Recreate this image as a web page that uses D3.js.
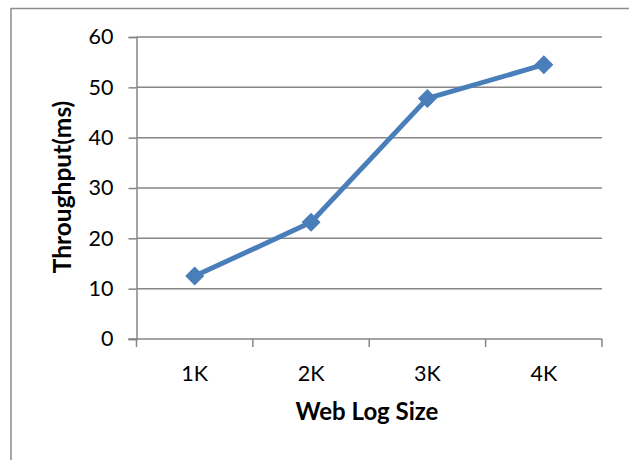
<!DOCTYPE html>
<html>
<head>
<meta charset="utf-8">
<script src="https://cdn.jsdelivr.net/npm/d3@7"></script>
<style>
  html, body { margin: 0; padding: 0; background: #fff; }
  svg { display: block; }
  text { font-family: Lato, "Open Sans", sans-serif; }
</style>
</head>
<body>
<script>
const categories = ["1K", "2K", "3K", "4K"];
const throughput = [12.5, 23.2, 47.8, 54.5];
const yTicks = [0, 10, 20, 30, 40, 50, 60];

(function () {
const W = 629, H = 460;
const svg = d3.select("body").append("svg").attr("width", W).attr("height", H);

// outer frame
svg.append("path")
  .attr("d", `M11,${H} L11,8.5 L${W},8.5`)
  .attr("fill", "none").attr("stroke", "#8c8c8c").attr("stroke-width", 1.5);

const pLeft = 136.5, pRight = 602, pTop = 37, pBottom = 339;
const x = d3.scaleBand().domain(categories).range([pLeft, pRight]).paddingInner(0).paddingOuter(0);
const y = d3.scaleLinear().domain([0, 60]).range([pBottom, pTop]);

// y axis
const yAxis = d3.axisLeft(y).tickValues(yTicks).tickSize(8).tickPadding(15);
const gy = svg.append("g").attr("transform", `translate(${pLeft},0)`).call(yAxis);
gy.select(".domain").attr("stroke", "#868686").attr("stroke-width", 1.5);
gy.selectAll(".tick line").attr("stroke", "#868686").attr("stroke-width", 1.5);
gy.selectAll(".tick text").attr("font-size", 21.5).attr("fill", "#000").attr("font-family", "Lato");

// gridlines
svg.append("g").selectAll("line").data(yTicks.filter(d => d > 0)).join("line")
  .attr("x1", pLeft).attr("x2", pRight)
  .attr("y1", d => y(d)).attr("y2", d => y(d))
  .attr("stroke", "#868686").attr("stroke-width", 1.5);

// x axis
const gx = svg.append("g").attr("transform", `translate(0,${pBottom})`);
gx.append("line").attr("x1", pLeft - 8).attr("x2", pRight).attr("y1", 0).attr("y2", 0)
  .attr("stroke", "#868686").attr("stroke-width", 1.5);
const edges = categories.map(c => x(c)).concat([pRight]);
gx.selectAll("line.tk").data(edges).join("line").attr("class", "tk")
  .attr("x1", d => d).attr("x2", d => d).attr("y1", 0).attr("y2", 8)
  .attr("stroke", "#868686").attr("stroke-width", 1.5);
gx.selectAll("text").data(categories).join("text")
  .attr("x", d => x(d) + x.bandwidth() / 2).attr("y", 42)
  .attr("text-anchor", "middle").attr("font-size", 21.5).attr("fill", "#000")
  .text(d => d);

// axis titles
svg.append("text").attr("x", 367).attr("y", 420).attr("text-anchor", "middle")
  .attr("font-size", 24).attr("font-weight", "bold").attr("fill", "#000").text("Web Log Size");
svg.append("text").attr("transform", `translate(71,187) rotate(-90)`).attr("text-anchor", "middle")
  .attr("font-size", 24.5).attr("font-weight", "bold").attr("fill", "#000").text("Throughput(ms)");

// line
const cx = d => x(d) + x.bandwidth() / 2;
const line = d3.line().x((d, i) => cx(categories[i])).y(d => y(d));
svg.append("path").datum(throughput).attr("d", line)
  .attr("fill", "none").attr("stroke", "#4a7ebb").attr("stroke-width", 5).attr("stroke-linejoin", "round");

svg.append("g").selectAll("path").data(throughput).join("path")
  .attr("d", d3.symbol().type(d3.symbolDiamond2).size(230))
  .attr("transform", (d, i) => `translate(${cx(categories[i])},${y(d)})`)
  .attr("fill", "#4a7ebb");
})();
</script>
</body>
</html>
